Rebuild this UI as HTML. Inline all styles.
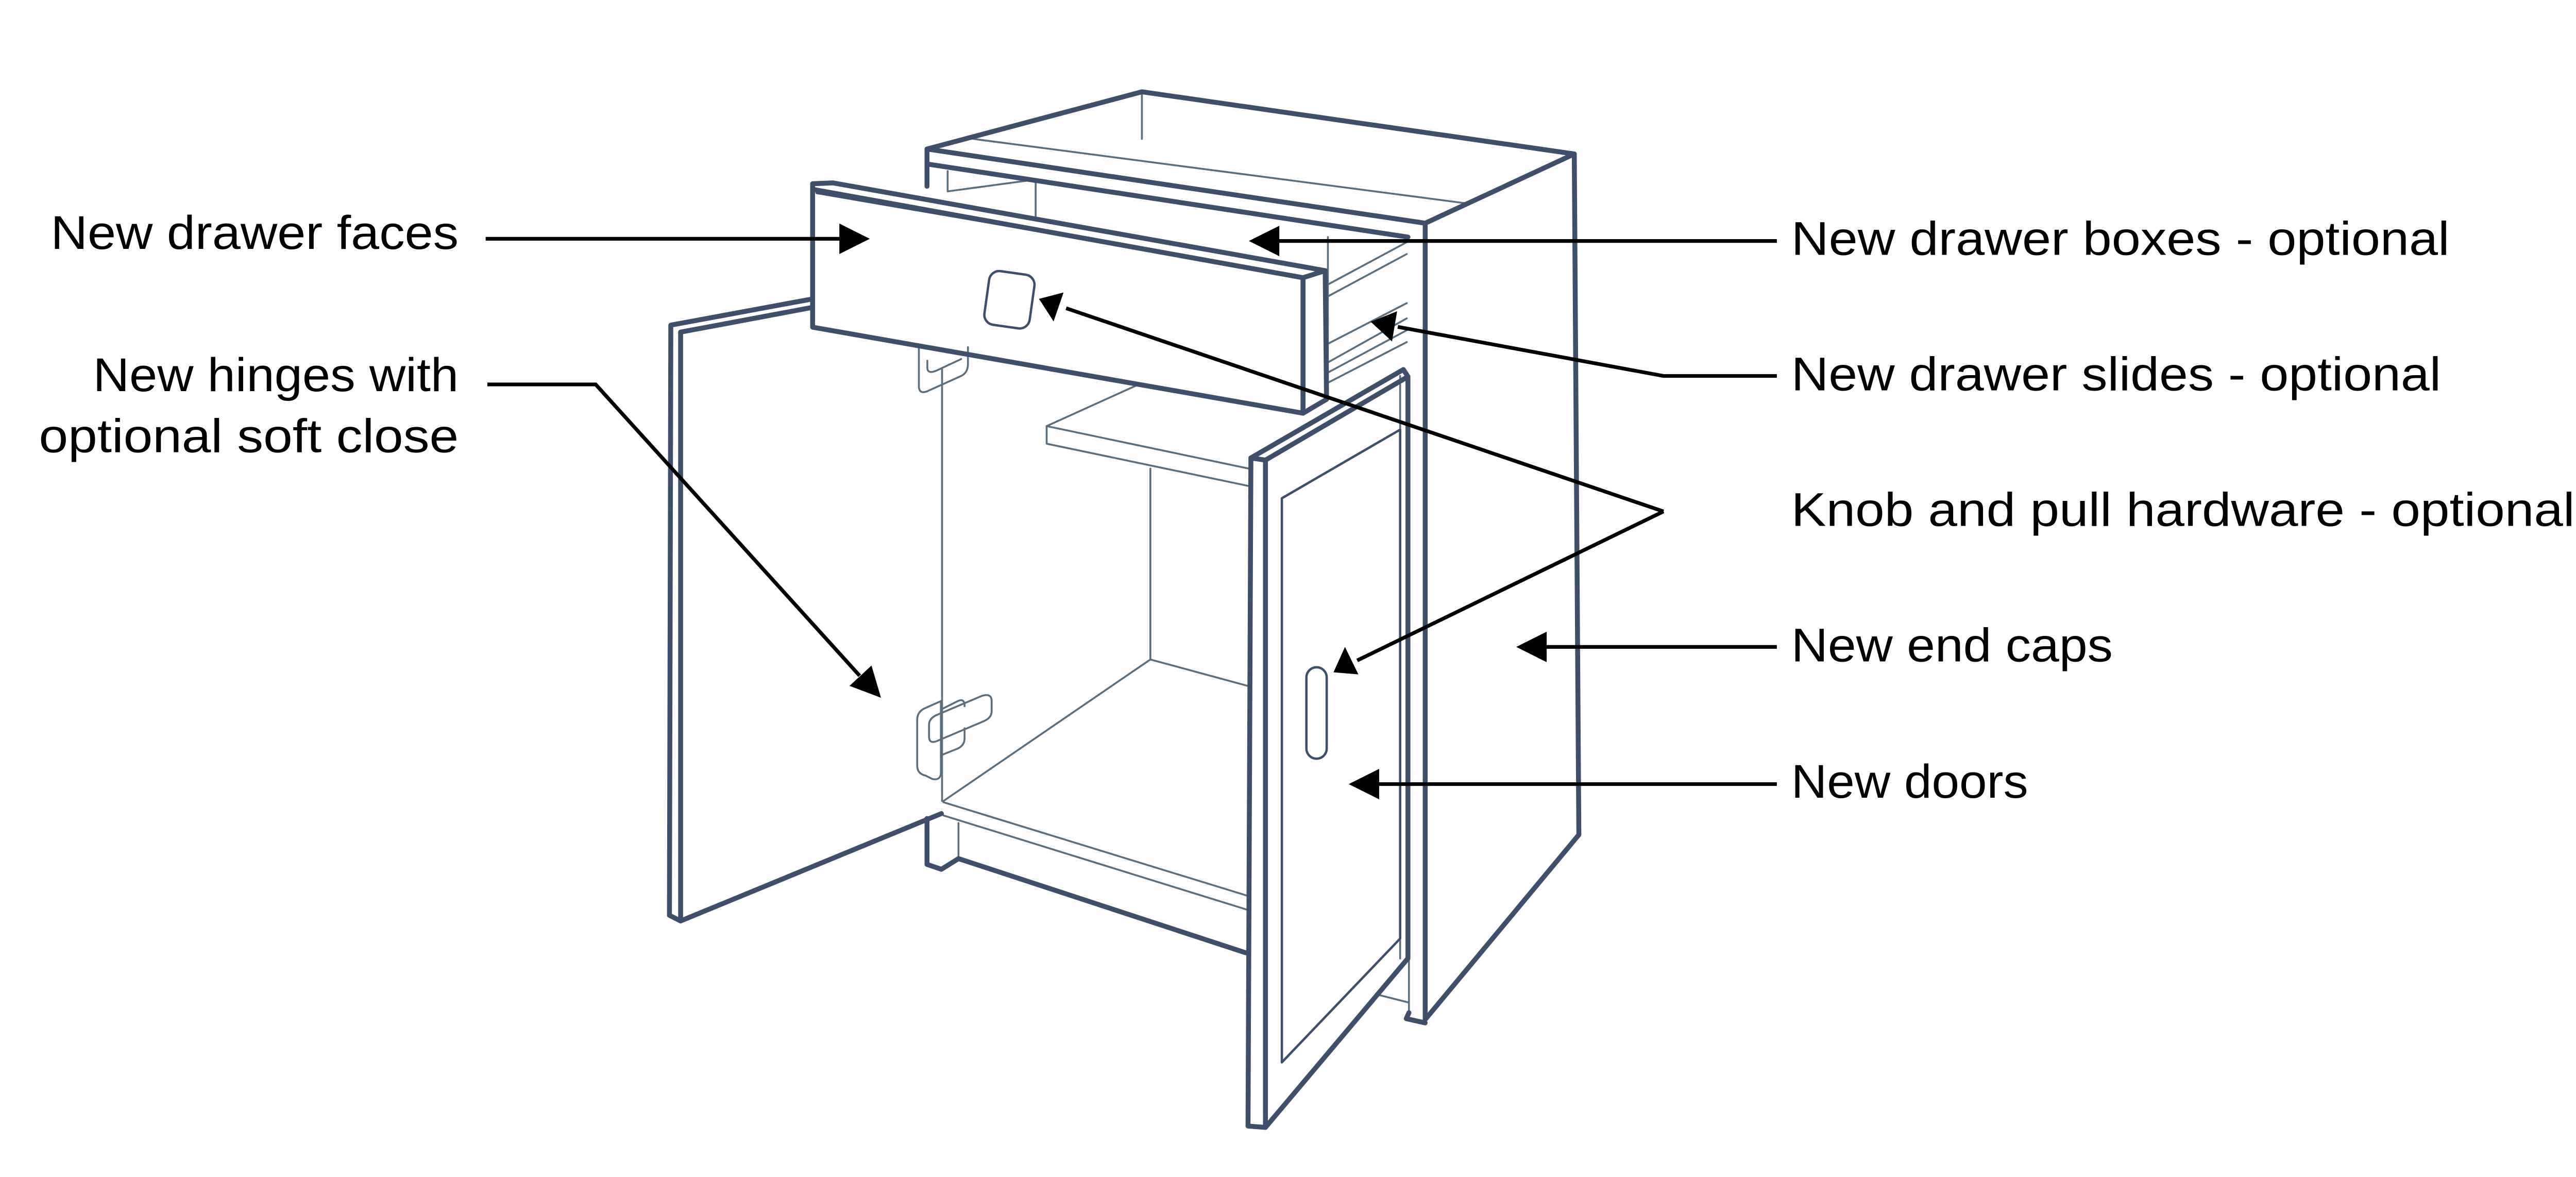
<!DOCTYPE html>
<html><head><meta charset="utf-8"><style>
html,body{margin:0;padding:0;background:#fff;width:5124px;height:2284px;overflow:hidden}
svg{display:block}
text{font-family:"Liberation Sans",sans-serif;font-size:28px;fill:#000}
</style></head><body>
<svg width="5124" height="2284" viewBox="0 0 1560 695" preserveAspectRatio="none" xmlns="http://www.w3.org/2000/svg">
<g fill="none" stroke="#3d4f6b" stroke-linejoin="round" stroke-linecap="round">
<g stroke-width="1.1" stroke="#5a6e7e">
<line x1="674.8" y1="54.2" x2="674.8" y2="82"/>
<line x1="575" y1="82" x2="866" y2="120"/>
<polyline points="560,101 560,113 612,106"/>
<line x1="612" y1="106" x2="612" y2="128"/>
<line x1="784.7" y1="168" x2="831.3" y2="143"/>
<line x1="784.7" y1="175" x2="831.3" y2="150"/>
<line x1="784.7" y1="214" x2="831.3" y2="188"/>
<line x1="784.7" y1="220" x2="831.3" y2="195"/>
<line x1="784.7" y1="226" x2="831.3" y2="202"/>
<line x1="784.7" y1="203" x2="831.3" y2="179"/>
<line x1="784.7" y1="140" x2="784.7" y2="236"/>
<line x1="556.7" y1="218" x2="556.7" y2="473"/>
<line x1="557.5" y1="473" x2="679.8" y2="389.4"/>
<line x1="679.8" y1="276.7" x2="679.8" y2="389.4"/>
<line x1="679.8" y1="389.4" x2="738" y2="405.2"/>
<polyline points="672,227.4 618.5,251.6 738,276.7"/>
<polyline points="618.5,251.6 618.5,262 738,287"/>
<line x1="557.5" y1="473.7" x2="738" y2="529.2"/>
<line x1="557.5" y1="481.5" x2="738" y2="537.5"/>
<line x1="566.4" y1="486" x2="566.4" y2="507"/>
<line x1="827.4" y1="222" x2="827.4" y2="566"/>
<line x1="832.6" y1="222" x2="832.6" y2="600"/>
<line x1="814.8" y1="587.5" x2="832.6" y2="592"/>
<path d="M543,205 L543,228 Q543,233 548,231 L568,222 Q572,220 572,215 L572,205"/>
<path d="M548,213 L548,217 Q548,221 553,219 L568,212"/>
<path d="M542,425 Q542,420 547,418 L556,414 L556,456 Q556,461 551,460 L547,458 Q542,457 542,452 Z"/>
<path d="M549,428 Q549,424 554,422 L580,411 Q586,409 586,414 L586,420 Q586,424 581,426 L555,437 Q549,440 549,435 Z"/>
<path d="M556,419 L566,414 Q570,412 570,417 M570,430 L570,436 Q570,440 566,442 L556,446"/>
</g>
<g stroke-width="2.9">
<polygon points="547.8,88 674.8,54.2 930.3,90.9 842.2,131.8"/>
<line x1="547.8" y1="88" x2="547.8" y2="110"/>
<line x1="549" y1="97" x2="832" y2="140"/>
<line x1="842.2" y1="131.8" x2="842.2" y2="602"/>
<polyline points="930.3,90.9 933,492.9 842.2,602"/>
<polyline points="832.6,598 831,601.5 842.2,604"/>
<polygon points="480.2,111.8 480.2,193.2 770,244 770,164"/>
<polygon points="770,164 783.1,159.8 783.9,235.8 770,244"/>
<polyline points="480.2,111.8 480.2,108.5 492.3,108 783.1,159.8"/>
<polyline points="480.2,176.5 396.4,192 395.6,540.5 402.2,543.8 556.3,480.4"/>
<line x1="402.2" y1="196.1" x2="480.2" y2="181.5"/>
<line x1="402.2" y1="196.1" x2="402.2" y2="543.8"/>
<polyline points="547.8,483.3 547.8,510.4 556.3,513.3 566.4,507 736.1,562.6"/>
<polygon points="739.2,270.4 829.3,218.2 832,222.4 747.8,271.7"/>
<polyline points="739.2,270.4 737.5,664.9 747.8,665.7 832,565.9 832,222.4"/>
<line x1="747.8" y1="271.7" x2="747.8" y2="665.7"/>
</g>
<g stroke-width="1.4">
<line x1="482.6" y1="113.9" x2="769.2" y2="163.1"/>
<polygon points="757.5,294.2 827.4,253.7 827.4,554.2 757.5,627.3"/>
<rect x="583" y="161" width="27" height="32" rx="6" transform="rotate(8 596.5 177)"/>
<rect x="772" y="394" width="12" height="54" rx="6"/>
</g>
</g>
<g stroke="#000" stroke-width="2.2" fill="none">
<line x1="287" y1="141" x2="500" y2="141"/>
<line x1="1050" y1="142.3" x2="752" y2="142.3"/>
<polyline points="1050,222 983,222 826,193"/>
<polyline points="983,302 630,182"/>
<polyline points="983,302 802,390"/>
<line x1="1050" y1="382" x2="910" y2="382"/>
<line x1="1050" y1="463" x2="812" y2="463"/>
<polyline points="288,227 352,227 508,399"/>
</g>
<g fill="#000">
<polygon points="514,141 496,132 496,150"/>
<polygon points="738,142.3 756,133.3 756,151.3"/>
<polygon points="810,190 825.6,183.8 822.6,201.6"/>
<polygon points="614,176.5 628.5,172.7 622.6,189.8"/>
<polygon points="788,397 794.8,382 802.7,398.2"/>
<polygon points="896,382 914,373 914,391"/>
<polygon points="797,463 815,454 815,472"/>
<polygon points="520.6,412 502,405 515,393"/>
</g>
<g>
<text x="30" y="147" textLength="241" lengthAdjust="spacingAndGlyphs">New drawer faces</text>
<text x="55" y="231" textLength="216" lengthAdjust="spacingAndGlyphs">New hinges with</text>
<text x="23" y="267" textLength="248" lengthAdjust="spacingAndGlyphs">optional soft close</text>
<text x="1058.5" y="150.5" textLength="389" lengthAdjust="spacingAndGlyphs">New drawer boxes - optional</text>
<text x="1058.5" y="230.5" textLength="384" lengthAdjust="spacingAndGlyphs">New drawer slides - optional</text>
<text x="1058.5" y="310.5" textLength="463" lengthAdjust="spacingAndGlyphs">Knob and pull hardware - optional</text>
<text x="1058.5" y="390.5" textLength="190" lengthAdjust="spacingAndGlyphs">New end caps</text>
<text x="1058.5" y="471" textLength="140" lengthAdjust="spacingAndGlyphs">New doors</text>
</g>
</svg>
</body></html>
